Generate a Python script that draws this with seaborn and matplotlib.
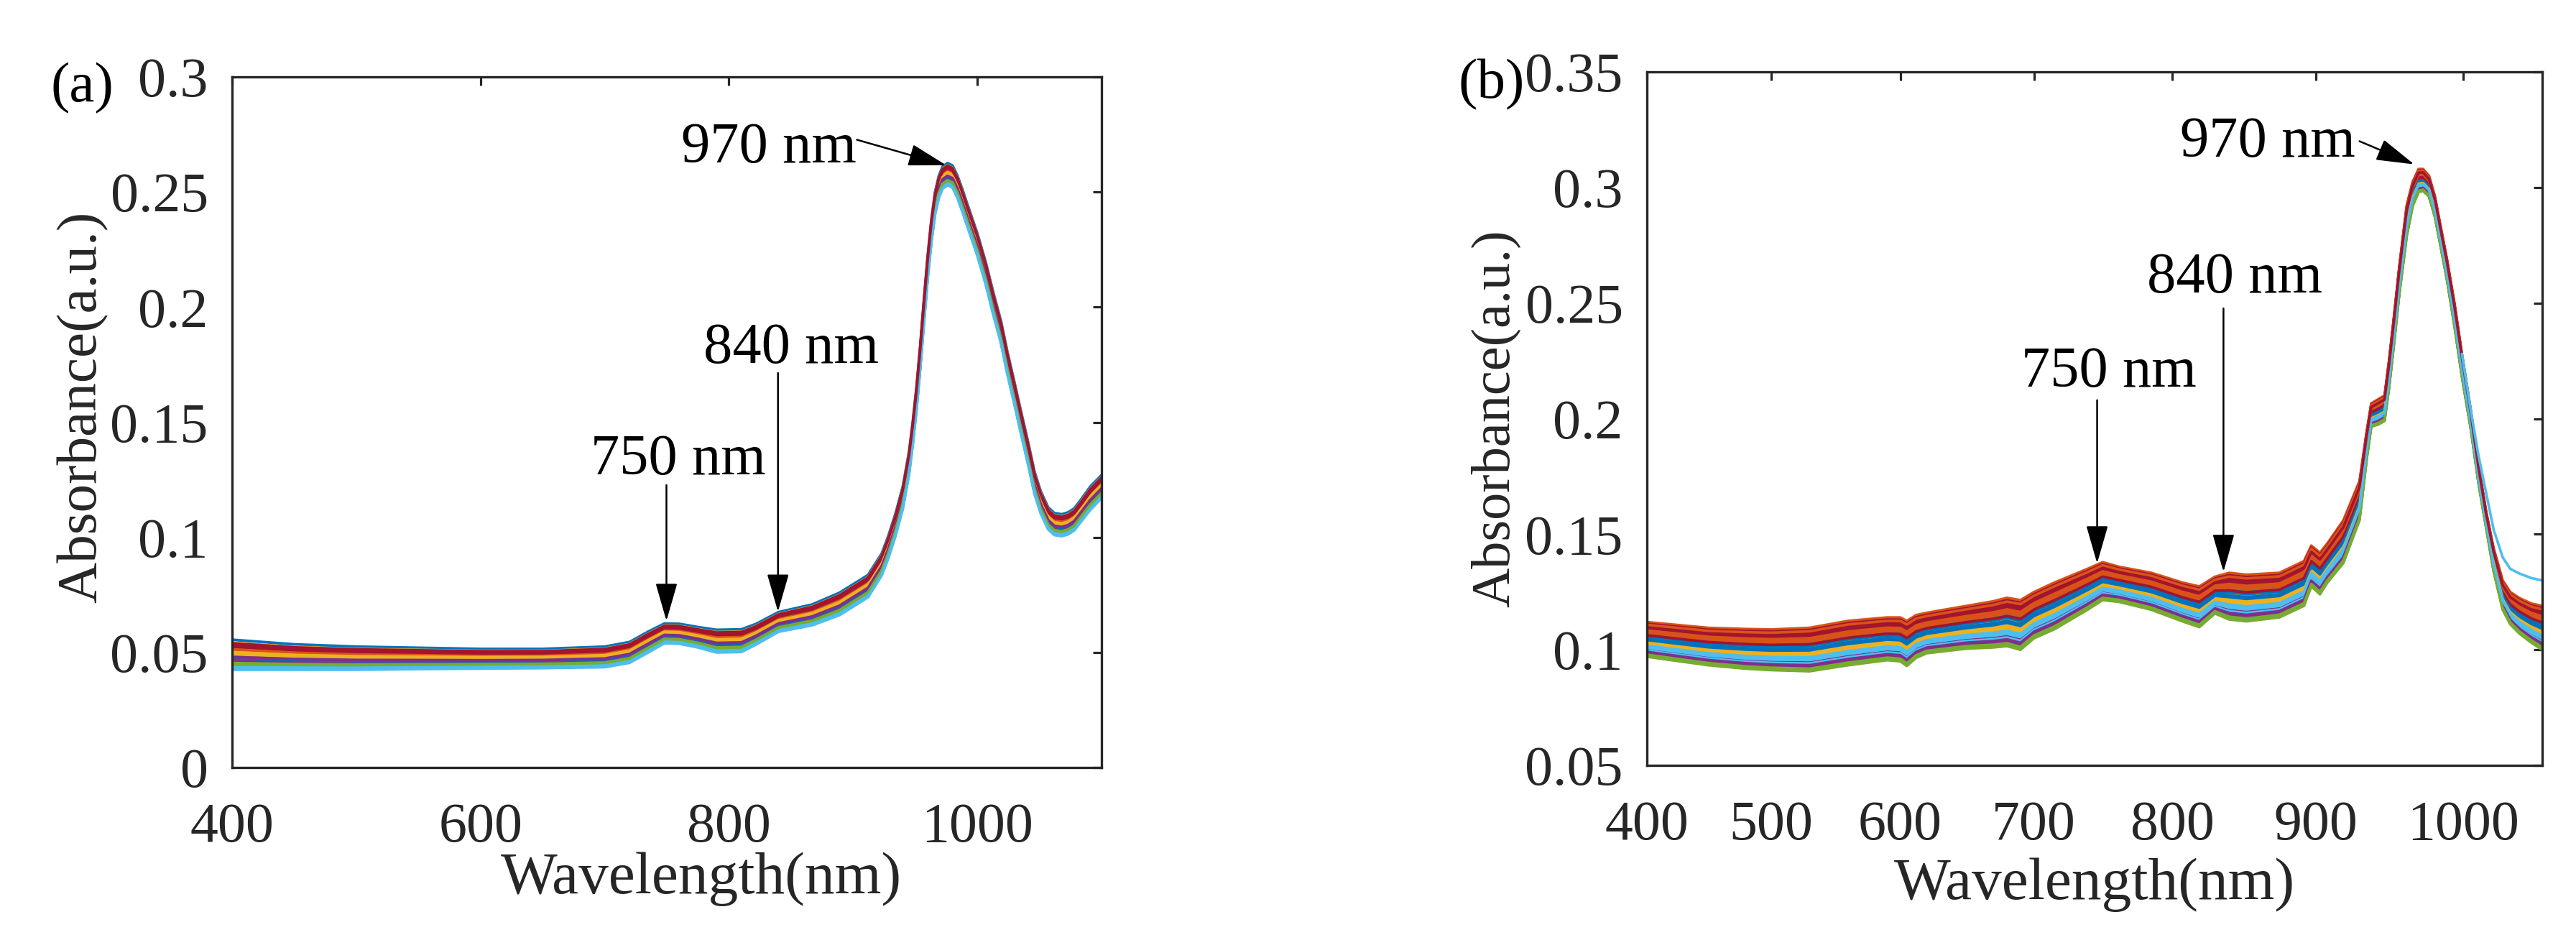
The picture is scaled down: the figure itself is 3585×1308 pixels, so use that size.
import numpy as np
import pandas as pd
import matplotlib
matplotlib.use("Agg")
import matplotlib.pyplot as plt
import seaborn as sns

# ------------------------------------------------------------------ data
# Panel (a): upper / lower envelope of the spectra bundle
wl_a = [400, 450, 500, 550, 600, 650, 700, 720, 735, 748, 760, 775, 790,
        810, 822, 840, 867, 889, 912, 923, 928, 934, 940, 945, 948,
        951, 954, 957, 960, 963, 966, 969, 972, 976, 980, 984, 988,
        993, 1000, 1007, 1013, 1019, 1024, 1030, 1035, 1041, 1046, 1051, 1057,
        1062, 1068, 1073, 1078, 1083, 1091, 1100]
top_a = [0.0555, 0.0535, 0.0525, 0.0520, 0.0515, 0.0515, 0.0525,
         0.0545, 0.0590, 0.0625, 0.0624, 0.0610, 0.0598,
         0.0600, 0.0624, 0.0675, 0.0708, 0.0759, 0.0836,
         0.0929, 0.1000, 0.1100, 0.1220, 0.1370, 0.1500,
         0.1650, 0.1830, 0.2030, 0.2220, 0.2380, 0.2500,
         0.2570, 0.2610, 0.2625, 0.2615, 0.2570, 0.2510,
         0.2430, 0.2320, 0.2190, 0.2060, 0.1940, 0.1810,
         0.1670, 0.1550, 0.1410, 0.1285, 0.1200, 0.1130,
         0.1105, 0.1100, 0.1108, 0.1125, 0.1160, 0.1220, 0.1270]
bottom_a = [0.0425, 0.0425, 0.0425, 0.0428, 0.0430, 0.0432, 0.0436,
            0.0455, 0.0500, 0.0540, 0.0538, 0.0522, 0.0500,
            0.0502, 0.0535, 0.0590, 0.0618, 0.0662, 0.0740,
            0.0835, 0.0905, 0.1005, 0.1125, 0.1275, 0.1405,
            0.1555, 0.1735, 0.1935, 0.2125, 0.2285, 0.2405,
            0.2475, 0.2515, 0.2530, 0.2520, 0.2475, 0.2415,
            0.2335, 0.2225, 0.2095, 0.1965, 0.1845, 0.1715,
            0.1575, 0.1455, 0.1315, 0.1190, 0.1105, 0.1035,
            0.1010, 0.1005, 0.1013, 0.1030, 0.1065, 0.1120, 0.1170]
# relative level of each spectrum inside the bundle (0 = lowest, 1 = highest)
frac_a = [1.00, 0.80, 0.90, 0.40, 0.25, 0.05, 0.85,
          0.60, 0.75, 0.70, 0.35, 0.20, 0.10, 0.65,
          0.50, 0.55, 0.62, 0.30, 0.15, 0.00, 0.72,
          0.45, 0.68, 0.58, 0.28, 0.18, 0.08, 0.78,
          0.38, 0.48, 0.52, 0.42, 0.22, 0.03, 0.88]

# Panel (b)
wl_b = [400, 420, 450, 480, 500, 530, 560, 590, 600, 605,
        612, 620, 650, 670, 680, 690, 700, 715, 739, 750,
        762, 785, 807, 819, 830, 840, 852, 875, 892, 897,
        903, 908, 919, 930, 935, 938, 943, 947, 950, 953,
        957, 962, 966, 970, 973, 977, 981, 984, 989, 994,
        999, 1005, 1010, 1015, 1020, 1026, 1031, 1037, 1045, 1052]
top_b = [0.1120, 0.1110, 0.1095, 0.1090, 0.1088, 0.1095, 0.1125, 0.1140, 0.1140, 0.1125,
         0.1150, 0.1160, 0.1190, 0.1210, 0.1225, 0.1215, 0.1250, 0.1291, 0.1350, 0.1379,
         0.1359, 0.1333, 0.1291, 0.1274, 0.1316, 0.1333, 0.1325, 0.1333, 0.1384, 0.1451,
         0.1420, 0.1460, 0.1560, 0.1730, 0.1950, 0.2066, 0.2085, 0.2100, 0.2250, 0.2420,
         0.2660, 0.2924, 0.3025, 0.3080, 0.3080, 0.3050, 0.2960, 0.2857, 0.2690, 0.2500,
         0.2280, 0.2030, 0.1800, 0.1600, 0.1440, 0.1300, 0.1250, 0.1224, 0.1200, 0.1190]
bottom_b = [0.0970, 0.0955, 0.0933, 0.0918, 0.0912, 0.0907, 0.0933, 0.0955, 0.0950, 0.0930,
            0.0965, 0.0985, 0.1005, 0.1010, 0.1016, 0.1000, 0.1050, 0.1089, 0.1173, 0.1215,
            0.1207, 0.1173, 0.1123, 0.1098, 0.1157, 0.1131, 0.1123, 0.1140, 0.1190, 0.1274,
            0.1240, 0.1290, 0.1375, 0.1560, 0.1830, 0.1965, 0.1975, 0.1990, 0.2130, 0.2300,
            0.2540, 0.2790, 0.2920, 0.2980, 0.2985, 0.2960, 0.2870, 0.2770, 0.2600, 0.2400,
            0.2180, 0.1950, 0.1720, 0.1530, 0.1340, 0.1173, 0.1110, 0.1070, 0.1030, 0.1000]
frac_b = [0.70, 1.00, 0.55, 0.45, 0.05, 0.35, 0.90,
          0.60, 0.85, 0.50, 0.40, 0.12, 0.30, 0.95,
          0.65, 0.80, 0.42, 0.25, 0.00, 0.22, 0.82,
          0.75, 0.72, 0.38, 0.20, 0.08, 0.28, 0.88,
          0.58, 0.68, 0.33, 0.15, 0.03, 0.18, 0.78,
          0.52, 0.92, 0.46, 0.10, 0.02, 0.26, 0.62,
          0.48, 0.76, 0.36, 0.14, 0.06, 0.32, 0.84]
# one light-blue spectrum that stays high on the long-wavelength tail
tail_wl_b = [999, 1005, 1010, 1015, 1020, 1026, 1031, 1037, 1045, 1052]
tail_val_b = [0.2280, 0.2030, 0.1840, 0.1680, 0.1520, 0.1400, 0.1350, 0.1330, 0.1310, 0.1300]

xticks_a = [400, 600, 800, 1000]
xticklabels_a = ["400", "600", "800", "1000"]
yticks_a = [0, 0.05, 0.1, 0.15, 0.2, 0.25, 0.3]
yticklabels_a = ["0", "0.05", "0.1", "0.15", "0.2", "0.25", "0.3"]
xticks_b = [400, 500, 600, 700, 800, 900, 1000]
xticklabels_b = ["400", "500", "600", "700", "800", "900", "1000"]
yticks_b = [0.05, 0.1, 0.15, 0.2, 0.25, 0.3, 0.35]
yticklabels_b = ["0.05", "0.1", "0.15", "0.2", "0.25", "0.3", "0.35"]
peak_labels = ["750 nm", "840 nm", "970 nm"]

# ------------------------------------------------------------------ style
sns.set_theme(style="white")
plt.rcParams["font.family"] = ["Liberation Serif", "DejaVu Serif"]
INK = "#262626"
matlab = ["#0072BD", "#D95319", "#EDB120", "#7E2F8E", "#77AC30", "#4DBEEE", "#A2142F"]

W, H = 3585, 1308
fig = plt.figure(figsize=(W / 100, H / 100), dpi=100)
ax_a = fig.add_axes([323 / W, (H - 1068) / H, 1210 / W, 961 / H])
ax_b = fig.add_axes([2292 / W, (H - 1065) / H, 1246 / W, 965 / H])


def bundle(wl, top, bottom, fracs):
    top = np.asarray(top)
    bottom = np.asarray(bottom)
    parts = []
    for i, f in enumerate(fracs):
        parts.append(pd.DataFrame({"wl": wl, "absorb": bottom + f * (top - bottom),
                                   "curve": f"c{i:02d}"}))
    return pd.concat(parts, ignore_index=True)


df_a = bundle(wl_a, top_a, bottom_a, frac_a)
order_a = [f"c{i:02d}" for i in range(len(frac_a))]
pal_a = {k: matlab[i % 7] for i, k in enumerate(order_a)}
sns.lineplot(data=df_a, x="wl", y="absorb", hue="curve", hue_order=order_a,
             palette=pal_a, estimator=None, legend=False, lw=2.8, ax=ax_a)

df_b = bundle(wl_b, top_b, bottom_b, frac_b)
df_b = pd.concat([df_b, pd.DataFrame({"wl": tail_wl_b, "absorb": tail_val_b,
                                      "curve": "tail"})], ignore_index=True)
order_b = [f"c{i:02d}" for i in range(len(frac_b))] + ["tail"]
pal_b = {k: matlab[i % 7] for i, k in enumerate(order_b[:-1])}
pal_b["tail"] = matlab[5]
sns.lineplot(data=df_b, x="wl", y="absorb", hue="curve", hue_order=order_b,
             palette=pal_b, estimator=None, legend=False, lw=2.6, ax=ax_b)


# non-linear wavelength axis of panel (b)
def fwd(x):
    t = (np.asarray(x, dtype=float) - 400.0) / 100.0
    return 207.4 * t + 4.0 * t * t


def inv(p):
    p = np.asarray(p, dtype=float)
    disc = np.maximum(207.4 ** 2 + 16.0 * p, 0.0)
    return 400.0 + 100.0 * (-207.4 + np.sqrt(disc)) / 8.0


ax_b.set_xscale("function", functions=(fwd, inv))

ax_a.set_xlim(400, 1100)
ax_a.set_ylim(0, 0.3)
ax_b.set_xlim(400, 1052)
ax_b.set_ylim(0.05, 0.35)

ax_a.set_xticks(xticks_a, xticklabels_a)
ax_a.set_yticks(yticks_a, yticklabels_a)
ax_b.set_xticks(xticks_b, xticklabels_b)
ax_b.set_yticks(yticks_b, yticklabels_b)
ax_b.minorticks_off()

for ax in (ax_a, ax_b):
    ax.tick_params(axis="both", which="major", direction="in", length=8.6, width=2.3,
                   top=True, right=True, colors=INK, labelsize=56)
    ax.tick_params(axis="x", pad=35)
    ax.tick_params(axis="y", pad=24)
    for sp in ax.spines.values():
        sp.set_linewidth(2.4)
        sp.set_color(INK)
        sp.set_zorder(5)
    ax.set_facecolor("white")

# axis labels
ax_a.set_xlabel("Wavelength(nm)", fontsize=60, color=INK)
ax_a.xaxis.set_label_coords(0.54, -0.182)
ax_a.xaxis.label.set_va("baseline")
ax_a.set_ylabel("Absorbance(a.u.)", fontsize=57, color=INK)
ax_a.yaxis.set_label_coords(-0.172, 0.522)
ax_a.yaxis.label.set_va("center")

ax_b.set_xlabel("Wavelength(nm)", fontsize=60, color=INK)
ax_b.xaxis.set_label_coords(0.5, -0.193)
ax_b.xaxis.label.set_va("baseline")
ax_b.set_ylabel("Absorbance(a.u.)", fontsize=55, color=INK)
ax_b.yaxis.set_label_coords(-0.1685, 0.5)
ax_b.yaxis.label.set_va("center")

ax_a.text(-0.2087, 0.9646, "(a)", transform=ax_a.transAxes, fontsize=57,
          ha="left", va="baseline", color="black")
ax_b.text(-0.211, 0.9627, "(b)", transform=ax_b.transAxes, fontsize=57,
          ha="left", va="baseline", color="black")

# annotations
arrow_kw = dict(arrowstyle="-|>,head_length=33,head_width=9.5", color="black",
                lw=1.8, shrinkA=0, shrinkB=0, mutation_scale=1)

ann_a = [((759, 0.1273), (749.7, 0.1227), (749.7, 0.0637)),
         ((850, 0.1757), (839.5, 0.1714), (839.5, 0.0677)),
         ((832, 0.2628), (903, 0.2727), (975, 0.2616))]
ann_b = [((754.5, 0.2138), (746, 0.2080), (746, 0.1374)),
         ((844, 0.2546), (836, 0.2477), (836, 0.1337)),
         ((867, 0.3133), (930, 0.3200), (967, 0.3100))]

for ax, anns in ((ax_a, ann_a), (ax_b, ann_b)):
    for label, (txt, start, tip) in zip(peak_labels, anns):
        ax.text(txt[0], txt[1], label, fontsize=58, ha="center", va="baseline",
                color="black", zorder=6)
        ax.annotate("", xy=tip, xytext=start, arrowprops=arrow_kw, zorder=6)

fig.savefig("out.png", dpi=100, facecolor="white")
